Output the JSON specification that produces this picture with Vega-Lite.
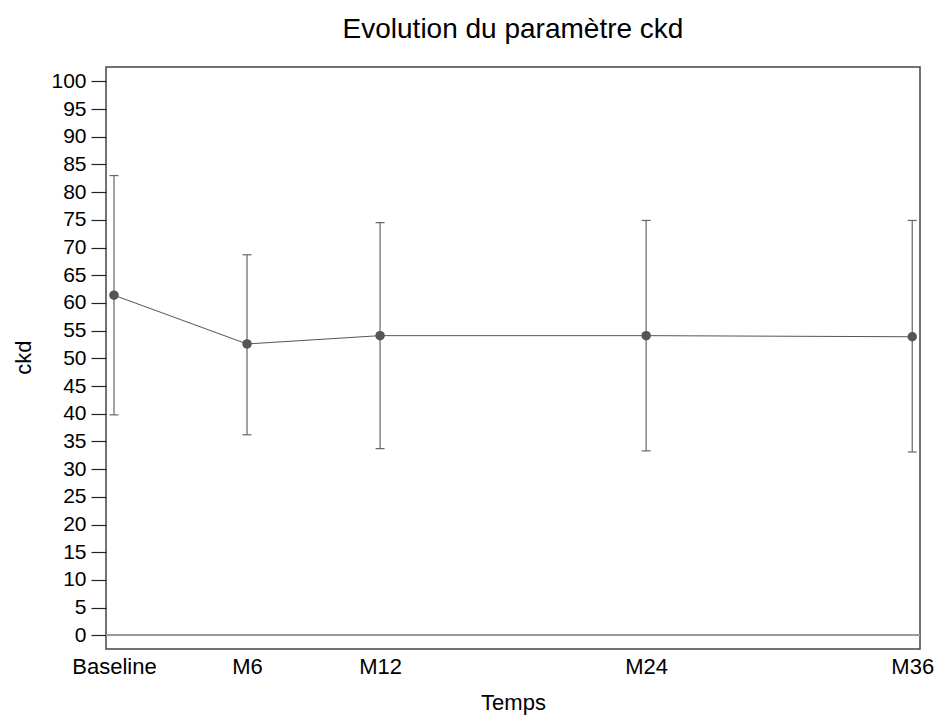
{
  "$schema": "https://vega.github.io/schema/vega-lite/v6.json",
  "autosize": {"type": "none"},
  "padding": {"left": 106, "top": 67, "right": 14, "bottom": 66},
  "width": 814,
  "height": 582,
  "background": "white",
  "title": {
    "text": "Evolution du paramètre ckd",
    "fontSize": 28,
    "font": "Liberation Sans",
    "fontWeight": "normal",
    "color": "#000000",
    "anchor": "middle",
    "baseline": "alphabetic",
    "offset": 1
  },
  "config": {
    "view": {"stroke": "#444444", "strokeWidth": 1.5},
    "font": "Liberation Sans"
  },
  "data": {
    "values": [
      {"month": 0, "label": "Baseline", "mean": 61.4, "lower": 39.8, "upper": 83.0},
      {"month": 6, "label": "M6", "mean": 52.6, "lower": 36.2, "upper": 68.7},
      {"month": 12, "label": "M12", "mean": 54.1, "lower": 33.7, "upper": 74.5},
      {"month": 24, "label": "M24", "mean": 54.1, "lower": 33.3, "upper": 74.9},
      {"month": 36, "label": "M36", "mean": 53.9, "lower": 33.1, "upper": 74.9}
    ]
  },
  "encoding": {
    "x": {
      "field": "month",
      "type": "quantitative",
      "scale": {"domain": [-0.36, 36.35], "nice": false, "zero": false},
      "axis": {
        "values": [0, 6, 12, 24, 36],
        "labelExpr": "datum.value == 0 ? 'Baseline' : 'M' + datum.value",
        "grid": false,
        "ticks": false,
        "domain": false,
        "labelFontSize": 22,
        "labelColor": "#000000",
        "labelPadding": 7,
        "labelFlush": false,
        "labelOverlap": false,
        "title": "Temps",
        "titleFontSize": 22,
        "titleFontWeight": "normal",
        "titleColor": "#000000",
        "titleBaseline": "alphabetic",
        "titleY": 60
      }
    },
    "y": {
      "field": "mean",
      "type": "quantitative",
      "scale": {"domain": [-2.47, 102.6], "nice": false, "zero": false},
      "axis": {
        "values": [0, 5, 10, 15, 20, 25, 30, 35, 40, 45, 50, 55, 60, 65, 70, 75, 80, 85, 90, 95, 100],
        "grid": false,
        "domain": false,
        "tickSize": 15,
        "tickColor": "#222222",
        "tickWidth": 1.2,
        "labelFontSize": 21,
        "labelColor": "#000000",
        "labelPadding": 5,
        "labelFlush": false,
        "labelOverlap": false,
        "title": "ckd",
        "titleFontSize": 22,
        "titleFontWeight": "normal",
        "titleColor": "#000000",
        "titleBaseline": "middle",
        "titleX": -83,
        "titleY": 290
      }
    }
  },
  "layer": [
    {
      "mark": {"type": "rule", "color": "#999999", "strokeWidth": 1.5},
      "encoding": {"y": {"datum": 0, "type": "quantitative"}, "x": null}
    },
    {
      "mark": {"type": "rule", "color": "#666666", "strokeWidth": 1.2},
      "encoding": {
        "y": {"field": "lower", "type": "quantitative"},
        "y2": {"field": "upper"}
      }
    },
    {
      "mark": {"type": "tick", "orient": "horizontal", "color": "#666666", "size": 9, "thickness": 1.2, "opacity": 1},
      "encoding": {"y": {"field": "lower", "type": "quantitative"}}
    },
    {
      "mark": {"type": "tick", "orient": "horizontal", "color": "#666666", "size": 9, "thickness": 1.2, "opacity": 1},
      "encoding": {"y": {"field": "upper", "type": "quantitative"}}
    },
    {
      "mark": {"type": "line", "color": "#555555", "strokeWidth": 1}
    },
    {
      "mark": {"type": "point", "filled": true, "color": "#555555", "size": 90, "opacity": 1}
    }
  ]
}
